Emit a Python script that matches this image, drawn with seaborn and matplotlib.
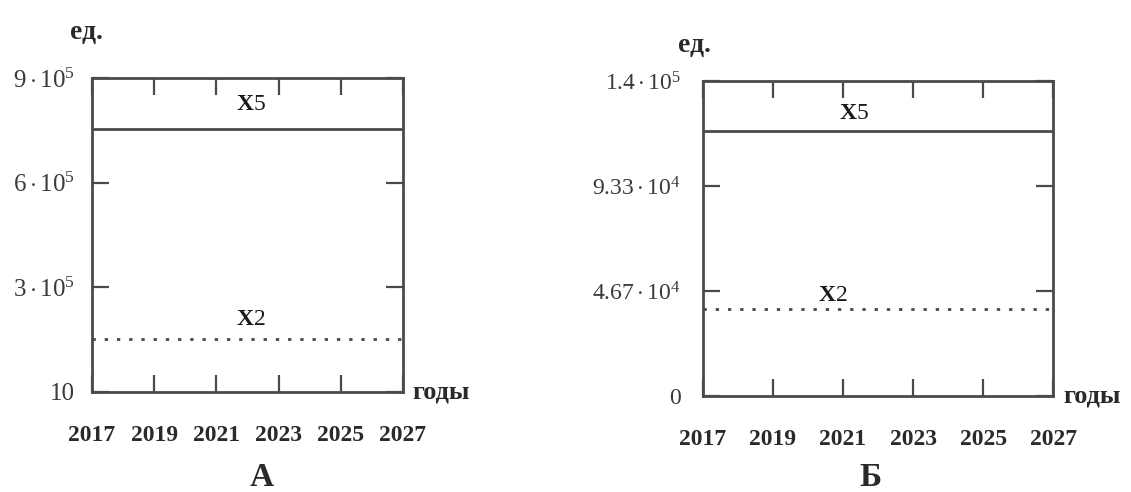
import numpy as np
import pandas as pd
import seaborn as sns
import matplotlib.pyplot as plt

years = [2017, 2019, 2021, 2023, 2025, 2027]
x5_a = [7.54e5] * len(years)
x2_a = [1.51e5] * len(years)
x5_b = [1.178e5] * len(years)
x2_b = [3.87e4] * len(years)

yticks_a = [10, 3e5, 6e5, 9e5]
ylabels_a = ['10', r'$3\cdot10^5$', r'$6\cdot10^5$', r'$9\cdot10^5$']
yticks_b = [0, 4.67e4, 9.33e4, 1.4e5]
ylabels_b = ['0', r'$4.67\cdot10^4$', r'$9.33\cdot10^4$', r'$1.4\cdot10^5$']

sns.set_style('white')
plt.rcParams['font.family'] = ['Liberation Serif', 'DejaVu Serif']
plt.rcParams['mathtext.fontset'] = 'custom'
plt.rcParams['mathtext.rm'] = 'Liberation Serif'
plt.rcParams['mathtext.it'] = 'Liberation Serif:italic'
plt.rcParams['mathtext.bf'] = 'Liberation Serif:bold'

col = '#4a4a4a'
tcol = '#2a2a2a'
fig = plt.figure(figsize=(11.31, 4.92), dpi=100)
ax1 = fig.add_axes([0.0813, 0.2033, 0.275, 0.638])
ax2 = fig.add_axes([0.6216, 0.1951, 0.3095, 0.640])


def draw(ax, x5, x2, yt, yl, ymax, letter, lab):
    df = pd.DataFrame({'год': years, 'X5': x5, 'X2': x2})
    sns.lineplot(data=df, x='год', y='X5', ax=ax, color=col, lw=2)
    sns.lineplot(data=df, x='год', y='X2', ax=ax, color=col, lw=2,
                 linestyle=(0, (1.2, 3.2)))
    ax.set_xlim(2017, 2027)
    ax.set_ylim(yt[0], ymax)
    ax.set_xticks(years)
    ax.set_xticklabels([str(y) for y in years], fontweight='bold')
    ax.set_yticks(yt)
    ax.set_yticklabels(yl)
    ax.set_xlabel('')
    ax.set_ylabel('')
    for s in ax.spines.values():
        s.set_color(col)
        s.set_linewidth(2)
        s.set_visible(True)
    ax.tick_params(axis='x', direction='in', length=12, width=1.6, color=col,
                   top=True, bottom=True, pad=24, labelsize=17, labelcolor=tcol)
    ax.tick_params(axis='y', direction='in', length=12, width=1.6, color=col,
                   left=True, right=True, pad=lab['yp'], labelsize=lab['ys'],
                   labelcolor='#3a3a3a')
    ax.annotate(r'$\mathbf{X}\mathit{5}$', (lab['x5'], x5[0]), xytext=(0, lab['o5']),
                textcoords='offset points', ha='center', va='center',
                fontsize=17, color='#1a1a1a')
    ax.annotate(r'$\mathbf{X}\mathrm{2}$', (lab['x2'], x2[0]), xytext=(0, lab['o2']),
                textcoords='offset points', ha='center', va='center',
                fontsize=17, color='#1a1a1a')
    ax.text(lab['ex'], lab['ey'], 'ед.', transform=ax.transAxes, fontsize=20,
            ha='center', va='center', color=tcol, fontweight='bold')
    ax.text(1.03, 0.0, 'годы', transform=ax.transAxes, fontsize=19,
            ha='left', va='center', color=tcol, fontweight='bold')
    ax.text(lab['lx'], lab['ly'], letter, transform=ax.transAxes, fontsize=24,
            ha='center', va='center', color=tcol, fontweight='bold')


draw(ax1, x5_a, x2_a, yticks_a, ylabels_a, 9e5, 'А',
     dict(x5=2022.1, o5=18, x2=2022.1, o2=14, ex=-0.016, ey=1.146,
          lx=0.547, ly=-0.274, yp=12, ys=18))
draw(ax2, x5_b, x2_b, yticks_b, ylabels_b, 1.4e5, 'Б',
     dict(x5=2021.3, o5=13, x2=2020.7, o2=10, ex=-0.023, ey=1.114,
          lx=0.477, ly=-0.26, yp=16, ys=17))

plt.savefig('out.png', dpi=100)
